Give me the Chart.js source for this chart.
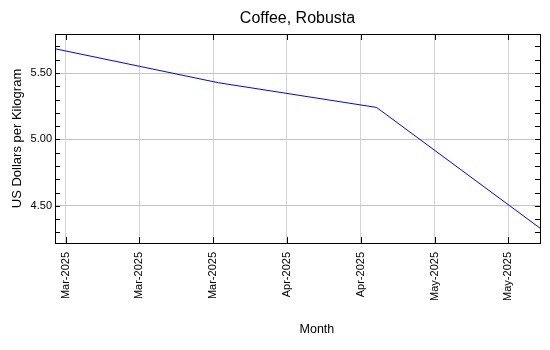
<!DOCTYPE html>
<html>
<head>
<meta charset="utf-8">
<script src="https://cdn.jsdelivr.net/npm/chart.js@4/dist/chart.umd.min.js"></script>
<style>
  html, body { margin: 0; padding: 0; background: #fff; }
  #wrap { width: 550px; height: 350px; position: relative; }
</style>
</head>
<body>
<div id="wrap"><canvas id="c" width="550" height="350"></canvas></div>
<script>
// ---- data ----
const months = ['2025-03-01', '2025-04-01', '2025-05-01', '2025-06-01'];
const prices = [5.683, 5.427, 5.241, 4.332];
const tickDates = ['2025-03-03', '2025-03-17', '2025-03-31', '2025-04-14', '2025-04-28', '2025-05-12', '2025-05-26'];
const tickLabels = ['Mar-2025', 'Mar-2025', 'Mar-2025', 'Apr-2025', 'Apr-2025', 'May-2025', 'May-2025'];
const yTickValues = [4.3, 4.4, 4.5, 4.6, 4.7, 4.8, 4.9, 5.0, 5.1, 5.2, 5.3, 5.4, 5.5, 5.6, 5.7];
const yLabelValues = [4.5, 5.0, 5.5];
const chartTitle = 'Coffee, Robusta';
const xTitle = 'Month';
const yTitle = 'US Dollars per Kilogram';

const DAY = 86400000;
const origin = Date.parse(months[0] + 'T00:00:00Z');
const dayOf = s => (Date.parse(s + 'T00:00:00Z') - origin) / DAY;
const points = months.map((m, i) => ({ x: dayOf(m), y: prices[i] }));
const xTicks = tickDates.map(dayOf);

const FONT = "'Liberation Sans', Arial, sans-serif";

const framePlugin = {
  id: 'frame',
  afterDraw(chart) {
    const { ctx, chartArea: a, scales } = chart;
    ctx.save();
    ctx.strokeStyle = '#000';
    ctx.lineWidth = 1;
    ctx.beginPath();
    scales.y.ticks.forEach(t => {
      const py = Math.round(scales.y.getPixelForValue(t.value)) + 0.5;
      ctx.moveTo(a.left, py); ctx.lineTo(a.left + 5, py);
      ctx.moveTo(a.right, py); ctx.lineTo(a.right - 5, py);
    });
    scales.x.ticks.forEach(t => {
      const px = Math.round(scales.x.getPixelForValue(t.value)) + 0.5;
      ctx.moveTo(px, a.bottom); ctx.lineTo(px, a.bottom - 6);
      ctx.moveTo(px, a.top); ctx.lineTo(px, a.top + 6);
    });
    ctx.stroke();
    ctx.strokeRect(Math.round(a.left) + 0.5, Math.round(a.top) + 0.5,
                   Math.round(a.right - a.left), Math.round(a.bottom - a.top));
    // titles
    ctx.fillStyle = '#000';
    ctx.textAlign = 'center';
    ctx.textBaseline = 'middle';
    ctx.font = '16px ' + FONT;
    ctx.fillText(chartTitle, (a.left + a.right) / 2, 19);
    ctx.font = '12.5px ' + FONT;
    ctx.fillText(xTitle, a.left + (a.right - a.left) * 0.54, 330);
    ctx.restore();
  }
};

new Chart(document.getElementById('c'), {
  type: 'line',
  data: {
    datasets: [{
      data: points,
      borderColor: '#0000ff',
      borderWidth: 1,
      pointRadius: 0,
      tension: 0,
      fill: false
    }]
  },
  options: {
    responsive: false,
    animation: false,
    events: [],
    layout: { padding: { left: 0, right: 10, top: 34, bottom: 0 } },
    plugins: {
      legend: { display: false },
      tooltip: { enabled: false },
      title: { display: false }
    },
    scales: {
      x: {
        type: 'linear',
        min: 0,
        max: dayOf(months[months.length - 1]),
        afterFit: s => { s.height = 107; },
        afterBuildTicks: s => { s.ticks = xTicks.map(v => ({ value: v })); },
        border: { display: false },
        grid: { color: '#d4d4d4', lineWidth: 1, drawTicks: false },
        ticks: {
          autoSkip: false,
          minRotation: 90,
          maxRotation: 90,
          padding: 9,
          color: '#000',
          font: { family: FONT, size: 11 },
          callback: (v) => { const i = xTicks.indexOf(v); return i >= 0 ? tickLabels[i] : ''; }
        }
      },
      y: {
        type: 'linear',
        min: 4.22,
        max: 5.794,
        afterFit: s => { s.width = 55; },
        afterBuildTicks: s => { s.ticks = yTickValues.map(v => ({ value: v })); },
        border: { display: false },
        grid: {
          drawTicks: false,
          color: ctx => yLabelValues.some(v => Math.abs(v - ctx.tick.value) < 1e-6) ? '#c4c4c4' : 'rgba(0,0,0,0)',
          borderDash: [2, 2]
        },
        ticks: {
          autoSkip: false,
          padding: 3,
          color: '#000',
          font: { family: FONT, size: 11 },
          callback: (v) => yLabelValues.some(l => Math.abs(l - v) < 1e-6) ? v.toFixed(2) : ''
        },
        title: {
          display: true,
          text: yTitle,
          color: '#000',
          font: { family: FONT, size: 13 },
          padding: { top: 10, bottom: 0 }
        }
      }
    }
  },
  plugins: [framePlugin]
});
</script>
</body>
</html>
